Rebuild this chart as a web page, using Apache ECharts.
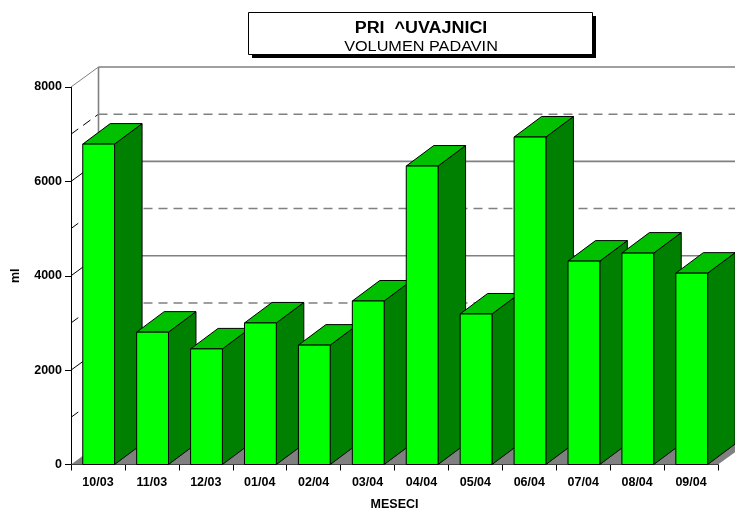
<!DOCTYPE html>
<html>
<head>
<meta charset="utf-8">
<style>html,body{margin:0;padding:0;background:#fff}#c{width:735px;height:511px}</style>
<script src="https://cdn.jsdelivr.net/npm/echarts@6/dist/echarts.min.js"></script>
</head>
<body>
<div id="c"></div>
<script>
var categories = ['10/03','11/03','12/03','01/04','02/04','03/04','04/04','05/04','06/04','07/04','08/04','09/04'];
var rainfall = [6790,2805,2450,3000,2530,3465,6325,3190,6940,4310,4480,4055];
var gridValues = [1000,2000,3000,4000,5000,6000,7000,8000];
var chartTitle = 'PRI  ^UVAJNICI';
var chartSubtitle = 'VOLUMEN PADAVIN';
var yAxisName = 'ml';
var xAxisName = 'MESECI';

var DX = 27.5, DY = 20.5, WALL_DY = 20, BAR_SHIFT = 0.7;
var FONT = '"Liberation Sans", Arial, sans-serif';
var chart = echarts.init(document.getElementById('c'), null, {renderer: 'canvas'});

function line(x1, y1, x2, y2, stroke, w, dash) {
  return {type: 'line', shape: {x1: x1, y1: y1, x2: x2, y2: y2},
    style: {stroke: stroke, lineWidth: w, lineDash: dash || null, fill: null}};
}
function poly(pts, fill, stroke) {
  return {type: 'polygon', shape: {points: pts},
    style: {fill: fill, stroke: stroke || null, lineWidth: stroke ? 1 : 0}};
}

function renderWall(params, api) {
  var cs = params.coordSys, v = api.value(0);
  var xL = cs.x, xR = cs.x + cs.width, y = api.coord([0, v])[1];
  var isTop = v === gridValues[gridValues.length - 1];
  var dashed = (v / 1000) % 2 === 1;
  var dash = dashed ? [9, 6] : null;
  var children = [];
  children.push(line(xL, y, xL + DX, y - WALL_DY, isTop ? '#808080' : '#000', 1, dash));
  children.push(line(xL + DX, y - WALL_DY, xR + DX, y - WALL_DY, '#808080', 1.6, dash));
  if (isTop) {
    var y0 = api.coord([0, 0])[1];
    children.push(line(xL + DX, y - WALL_DY, xL + DX, y0 - WALL_DY, '#808080', 1.6));
    children.unshift(poly([[xL, y0], [xL + DX, y0 - WALL_DY], [xR + DX, y0 - WALL_DY], [xR, y0]], '#808080'));
  }
  return {type: 'group', children: children};
}

function renderBar(params, api) {
  var i = api.value(0), v = api.value(1);
  var c = api.coord([i, v]), b = api.coord([i, 0]);
  var w = api.size([1, 0])[0] * 0.59;
  var l = c[0] + BAR_SHIFT - w / 2, r = c[0] + BAR_SHIFT + w / 2, t = c[1], y0 = b[1];
  return {type: 'group', children: [
    poly([[r, t], [r + DX, t - DY], [r + DX, y0 - DY], [r, y0]], '#008000', '#000'),
    poly([[l, t], [l + DX, t - DY], [r + DX, t - DY], [r, t]], '#00c000', '#000'),
    poly([[l, t], [r, t], [r, y0], [l, y0]], '#00ff00', '#000')
  ]};
}

chart.setOption({
  animation: false,
  backgroundColor: '#fff',
  graphic: [
    {type: 'rect', z: 1, shape: {x: 252, y: 16, width: 344, height: 42}, style: {fill: '#000'}},
    {type: 'rect', z: 2, shape: {x: 248.5, y: 12.5, width: 344, height: 42}, style: {fill: '#fff', stroke: '#000', lineWidth: 1}},
    {type: 'text', z: 3, x: 421, y: 29, scaleX: 1.12,
      style: {text: chartTitle, font: 'bold 16px ' + FONT, fill: '#000', align: 'center', verticalAlign: 'middle'}},
    {type: 'text', z: 3, x: 421, y: 47.5, scaleX: 1.16,
      style: {text: chartSubtitle, font: '14px ' + FONT, fill: '#000', align: 'center', verticalAlign: 'middle'}}
  ],
  grid: {left: 71, right: 17, top: 87, bottom: 46.5, outerBoundsMode: 'none', containLabel: false},
  xAxis: {
    type: 'category', data: categories, boundaryGap: true,
    name: xAxisName, nameLocation: 'middle', nameGap: 34,
    nameTextStyle: {fontFamily: FONT, fontSize: 12.5, fontWeight: 'bold', color: '#000'},
    axisLine: {show: true, lineStyle: {color: '#000', width: 1}},
    axisTick: {show: true, length: 6, alignWithLabel: false, lineStyle: {color: '#000', width: 1}},
    axisLabel: {interval: 0, margin: 12, fontFamily: FONT, fontSize: 12.5, fontWeight: 'bold', color: '#000'},
    splitLine: {show: false}
  },
  yAxis: {
    type: 'value', min: 0, max: 8000, interval: 2000,
    name: yAxisName, nameLocation: 'middle', nameGap: 49, nameRotate: 90,
    nameTextStyle: {fontFamily: FONT, fontSize: 12.5, fontWeight: 'bold', color: '#000'},
    axisLine: {show: true, onZero: false, lineStyle: {color: '#000', width: 1}},
    axisTick: {show: true, length: 6, lineStyle: {color: '#000', width: 1}},
    axisLabel: {margin: 9, fontFamily: FONT, fontSize: 12.5, fontWeight: 'bold', color: '#000',
      formatter: function (v) { return String(v); }},
    splitLine: {show: false}
  },
  series: [
    {type: 'custom', name: 'walls', renderItem: renderWall, clip: false, silent: true, z: 1,
      encode: {y: 0}, data: gridValues.map(function (v) { return [v]; })},
    {type: 'custom', name: 'rainfall', renderItem: renderBar, clip: false, silent: true, z: 2,
      encode: {x: 0, y: 1}, data: rainfall.map(function (v, i) { return [i, v]; })}
  ]
});
</script>
</body>
</html>
